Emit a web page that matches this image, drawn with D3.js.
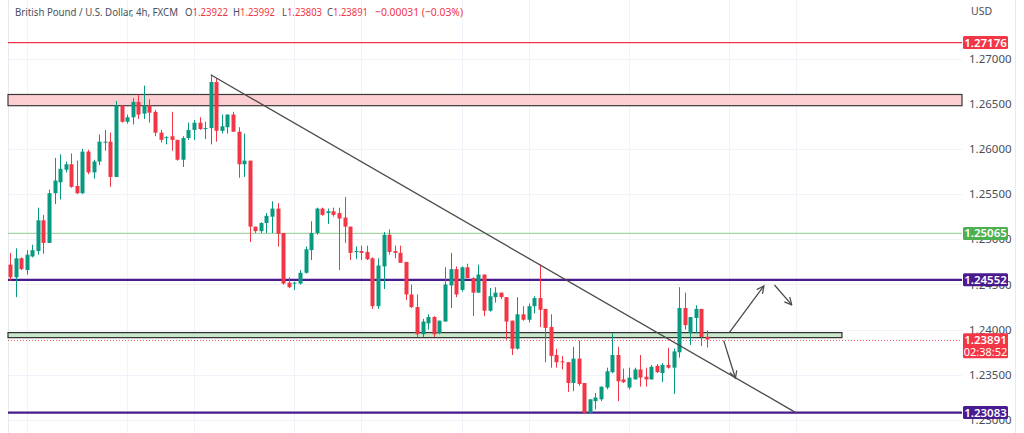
<!DOCTYPE html>
<html><head><meta charset="utf-8">
<script src="https://cdn.jsdelivr.net/npm/d3@7"></script>
<style>
html,body{margin:0;padding:0;background:#fff;}
svg{display:block;}
text{font-family:"Noto Sans","Open Sans",sans-serif;}
</style></head>
<body><svg id="c" width="1024" height="433"></svg>
<script>
// ---------- DATA ----------
const openP = [1.2472,1.2458,1.2479,1.2466,1.2481,1.2487,1.2521,1.2496,1.2551,1.2563,1.2577,1.2583,1.2559,1.2551,1.2597,1.2574,1.2586,1.2607,1.2608,1.2569,
1.2648,1.2630,1.2635,1.2652,1.2639,1.2648,1.2641,1.2618,1.2612,1.2614,1.2610,1.2588,1.2612,1.2621,1.2629,1.2622,1.2623,1.2674,1.2620,1.2624,
1.2638,1.2619,1.2583,1.2587,1.2514,1.2509,1.2518,1.2525,1.2534,1.2507,1.2452,1.2451,1.2451,1.2463,1.2488,1.2507,1.2534,1.2529,1.2531,1.2529,
1.2524,1.2514,1.2486,1.2487,1.2486,1.2479,1.2426,1.2470,1.2505,1.2487,1.2485,1.2475,1.2439,1.2425,1.2395,1.2407,1.2414,1.2396,1.2409,1.2449,
1.2467,1.2444,1.2469,1.2457,1.2441,1.2461,1.2421,1.2436,1.2441,1.2436,1.2410,1.2379,1.2417,1.2411,1.2426,1.2435,1.2423,1.2403,1.2372,1.2365,
1.2364,1.2341,1.2368,1.2341,1.2308,1.2321,1.2323,1.2336,1.2353,1.2372,1.2345,1.2336,1.2345,1.2356,1.2348,1.2345,1.2360,1.2352,1.2361,1.2358,
1.2375,1.2424,1.2396,1.2413,1.2423,1.23922];
const highP = [1.2485,1.2490,1.2480,1.2488,1.2494,1.2535,1.2527,1.2555,1.2590,1.2594,1.2586,1.2595,1.2587,1.2600,1.2599,1.2588,1.2616,1.2621,1.2618,1.2653,
1.2648,1.2638,1.2656,1.2660,1.2670,1.2655,1.2643,1.2621,1.2614,1.2641,1.2610,1.2614,1.2629,1.2632,1.2635,1.2630,1.2682,1.2678,1.2638,1.2638,
1.2641,1.2624,1.2617,1.2587,1.2514,1.2519,1.2529,1.2542,1.2540,1.2507,1.2458,1.2453,1.2466,1.2492,1.2520,1.2535,1.2535,1.2534,1.2535,1.2535,
1.2547,1.2514,1.2492,1.2493,1.2493,1.2480,1.2479,1.2508,1.2511,1.2493,1.2493,1.2475,1.2450,1.2439,1.2412,1.2417,1.2415,1.2410,1.2469,1.2485,
1.2470,1.2470,1.2473,1.2458,1.2472,1.2461,1.2446,1.2447,1.2441,1.2436,1.2410,1.2436,1.2426,1.2429,1.2437,1.2472,1.2423,1.2417,1.2379,1.2371,
1.2364,1.2381,1.2388,1.2341,1.2323,1.2330,1.2337,1.2358,1.2396,1.2381,1.2357,1.2358,1.2358,1.2372,1.2358,1.2361,1.2362,1.2363,1.2380,1.2379,
1.2447,1.2441,1.2414,1.2427,1.2423,1.23992];
const lowP = [1.2454,1.2436,1.2466,1.2461,1.2480,1.2483,1.2484,1.2496,1.2539,1.2544,1.2574,1.2557,1.2550,1.2550,1.2572,1.2567,1.2582,1.2598,1.2558,1.2569,
1.2629,1.2628,1.2627,1.2633,1.2633,1.2629,1.2614,1.2607,1.2605,1.2598,1.2587,1.2580,1.2610,1.2610,1.2621,1.2611,1.2605,1.2608,1.2617,1.2617,
1.2619,1.2568,1.2569,1.2497,1.2507,1.2507,1.2507,1.2507,1.2492,1.2450,1.2446,1.2444,1.2450,1.2462,1.2477,1.2505,1.2526,1.2517,1.2525,1.2466,
1.2496,1.2477,1.2478,1.2477,1.2477,1.2423,1.2423,1.2445,1.2483,1.2479,1.2474,1.2433,1.2424,1.2392,1.2392,1.2400,1.2392,1.2395,1.2409,1.2424,
1.2436,1.2442,1.2457,1.2415,1.2441,1.2415,1.2420,1.2430,1.2434,1.2389,1.2372,1.2378,1.2410,1.2408,1.2418,1.2403,1.2364,1.2358,1.2358,1.2356,
1.2331,1.2332,1.2338,1.2308,1.2308,1.2312,1.2321,1.2334,1.2352,1.2321,1.2341,1.2334,1.2345,1.2337,1.2337,1.2345,1.2352,1.2342,1.2357,1.2329,
1.2369,1.2400,1.2383,1.2396,1.2382,1.23803];
const closeP = [1.2458,1.2479,1.2467,1.2483,1.2488,1.2521,1.2496,1.2551,1.2565,1.2578,1.2583,1.2558,1.2551,1.2597,1.2574,1.2586,1.2608,1.2608,1.2569,1.2648,
1.2630,1.2635,1.2652,1.2638,1.2648,1.2640,1.2618,1.2610,1.2613,1.2610,1.2588,1.2612,1.2621,1.2629,1.2622,1.2623,1.2674,1.2620,1.2625,1.2638,
1.2619,1.2583,1.2587,1.2514,1.2509,1.2518,1.2526,1.2534,1.2506,1.2451,1.2447,1.2452,1.2463,1.2489,1.2507,1.2534,1.2527,1.2531,1.2527,1.2523,
1.2514,1.2485,1.2487,1.2485,1.2478,1.2426,1.2471,1.2505,1.2486,1.2485,1.2474,1.2439,1.2425,1.2395,1.2409,1.2414,1.2395,1.2410,1.2450,1.2467,
1.2439,1.2469,1.2457,1.2441,1.2461,1.2421,1.2437,1.2441,1.2436,1.2409,1.2379,1.2417,1.2411,1.2426,1.2435,1.2422,1.2402,1.2371,1.2364,1.2364,
1.2341,1.2368,1.2340,1.2308,1.2323,1.2325,1.2337,1.2354,1.2372,1.2343,1.2342,1.2347,1.2356,1.2347,1.2345,1.2359,1.2353,1.2361,1.2358,1.2376,
1.2424,1.2405,1.2414,1.2423,1.2392,1.23891];

const tickValues = [1.230,1.235,1.240,1.245,1.250,1.255,1.260,1.265,1.270];
const gridIndices = [3,21,33,51,63,81,93,111,129,141];

const levelLines = [
  {price:1.27176, label:"1.27176", color:"#f23645", width:1.3},
  {price:1.25065, label:"1.25065", color:"#a5d6a7", width:1.2, tag:"#4caf50"},
  {price:1.24552, label:"1.24552", color:"#4a1a8f", width:2.2},
  {price:1.23083, label:"1.23083", color:"#4a1a8f", width:2.2}
];
const pinkZone = [1.26478, 1.26602];
const greenZone = [1.23912, 1.23968];
const greenZoneEnd = 149.2;
const trendLine = [{i:36, p:1.2682}, {i:141, p:1.2308}];
const arrows = [
  [{i:129.0, p:1.23967}, {i:135.2, p:1.24484}],
  [{i:137.1, p:1.24495}, {i:140.2, p:1.24274}],
  [{i:128.0, p:1.23879}, {i:130.1, p:1.23463}]
];
const lastPrice = 1.23891, countdown = "02:38:52";
const headerParts = [
  {k:"", t:"British Pound / U.S. Dollar, 4h, FXCM", x:15, w:163},
  {k:"O", t:"1.23922", x:185, w:43},
  {k:"H", t:"1.23992", x:233, w:42},
  {k:"L", t:"1.23803", x:282, w:40},
  {k:"C", t:"1.23891", x:327, w:41},
  {k:"", t:"\u22120.00031 (\u22120.03%)", x:375, w:88, red:true}
];

// ---------- SCALES ----------
const svg = d3.select("#c");
const plotL = 8, plotR = 962;
const x = d3.scaleLinear().domain([0, 125]).range([10, 707]);
const y = d3.scaleLinear().domain([1.235, 1.27]).range([374.9, 58.5]);
const UP = "#089981", DN = "#f23645";
const candles = openP.map((o,i)=>({i, o, h:highP[i], l:lowP[i], c:closeP[i]}));

// grid
const grid = svg.append("g");
grid.selectAll("line.h").data(tickValues).join("line")
  .attr("x1", plotL).attr("x2", plotR)
  .attr("y1", d=>Math.round(y(d))+0.5).attr("y2", d=>Math.round(y(d))+0.5)
  .attr("stroke", "#f0f3fa").attr("stroke-width", 1);
grid.selectAll("line.v").data(gridIndices).join("line")
  .attr("x1", d=>Math.round(x(d))+0.5).attr("x2", d=>Math.round(x(d))+0.5)
  .attr("y1", 0).attr("y2", 433)
  .attr("stroke", "#f0f3fa").attr("stroke-width", 1);
svg.append("line").attr("x1",plotL+0.5).attr("x2",plotL+0.5).attr("y1",0).attr("y2",433).attr("stroke","#e6e9f0");
svg.append("line").attr("x1",1015.5).attr("x2",1015.5).attr("y1",0).attr("y2",433).attr("stroke","#e6e9f0");

// pink zone
svg.append("rect").attr("x", plotL).attr("width", plotR - plotL)
  .attr("y", y(pinkZone[1])).attr("height", y(pinkZone[0]) - y(pinkZone[1]))
  .attr("fill", "#fccdd1").attr("stroke", "#3a3a3a").attr("stroke-width", 1.2);

// level lines
svg.selectAll("line.lvl").data(levelLines).join("line")
  .attr("x1", plotL).attr("x2", plotR)
  .attr("y1", d=>y(d.price)).attr("y2", d=>y(d.price))
  .attr("stroke", d=>d.color).attr("stroke-width", d=>d.width);

// green zone
svg.append("rect").attr("x", plotL).attr("width", x(greenZoneEnd) - plotL)
  .attr("y", y(greenZone[1])).attr("height", y(greenZone[0]) - y(greenZone[1]))
  .attr("fill", "#c8e6c9").attr("stroke", "#2e2e2e").attr("stroke-width", 1.2);

// last price dotted line
svg.append("line").attr("x1", plotL).attr("x2", plotR)
  .attr("y1", Math.round(y(lastPrice))+0.5).attr("y2", Math.round(y(lastPrice))+0.5)
  .attr("stroke", "#f23645").attr("stroke-width", 1).attr("stroke-dasharray", "1,2").attr("opacity",0.8);

// candles
const cg = svg.append("g");
cg.selectAll("line.wick").data(candles).join("line")
  .attr("x1", d=>Math.round(x(d.i))+0.5).attr("x2", d=>Math.round(x(d.i))+0.5)
  .attr("y1", d=>y(d.h)).attr("y2", d=>y(d.l))
  .attr("stroke", d=>d.c>=d.o?UP:DN).attr("stroke-width", 1);
cg.selectAll("rect.body").data(candles).join("rect")
  .attr("x", d=>Math.round(x(d.i))-1.5)
  .attr("width", 4)
  .attr("y", d=>y(Math.max(d.o,d.c)))
  .attr("height", d=>Math.max(1, Math.abs(y(d.o)-y(d.c))))
  .attr("fill", d=>d.c>=d.o?UP:DN);

// trend line
const line = d3.line().x(d=>x(d.i)).y(d=>y(d.p));
svg.append("path").attr("d", line(trendLine)).attr("fill","none")
  .attr("stroke","#4a4a4a").attr("stroke-width",1.3);

// arrows
svg.append("defs").append("marker").attr("id","ah").attr("viewBox","0 0 10 10")
  .attr("refX",9).attr("refY",5).attr("markerWidth",9).attr("markerHeight",9)
  .attr("markerUnits","userSpaceOnUse").attr("orient","auto")
  .append("path").attr("d","M1,1 L9,5 L1,9").attr("fill","none").attr("stroke","#4a4a4a").attr("stroke-width",1.4);
svg.selectAll("path.arr").data(arrows).join("path")
  .attr("d", d=>line(d)).attr("fill","none").attr("stroke","#4a4a4a").attr("stroke-width",1.3)
  .attr("marker-end","url(#ah)");

// right axis
const axis = d3.axisRight(y).tickValues(tickValues).tickFormat(d3.format(".5f")).tickSize(0).tickPadding(0);
const ag = svg.append("g").attr("transform","translate(969,0)").call(axis);
ag.select(".domain").remove();
ag.selectAll("text").attr("fill","#4a4e59").attr("font-size","11.5px").attr("font-family",'"Noto Sans",sans-serif');
svg.append("text").attr("x",971).attr("y",15).text("USD").attr("fill","#4a4e59").attr("font-size","10.5px");

// price tags
const tg = svg.append("g");
levelLines.forEach(d=>{
  const cy = y(d.price);
  tg.append("rect").attr("x",963).attr("y",cy-6.5).attr("width",45).attr("height",13).attr("rx",1.5)
    .attr("fill", d.tag || d.color);
  tg.append("text").attr("x",985.5).attr("y",cy+4).attr("text-anchor","middle")
    .attr("fill","#fff").attr("font-size","11.5px").attr("font-weight",600).text(d.label);
});
const ly = y(lastPrice);
tg.append("rect").attr("x",963).attr("y",ly-6.3).attr("width",45).attr("height",25).attr("rx",1.5).attr("fill","#f23645");
tg.append("text").attr("x",985.5).attr("y",ly+4).attr("text-anchor","middle").attr("fill","#fff")
  .attr("font-size","11.5px").attr("font-weight",600).text(d3.format(".5f")(lastPrice));
tg.append("text").attr("x",985.5).attr("y",ly+16).attr("text-anchor","middle").attr("fill","#fff")
  .attr("font-size","11px").text(countdown);

// header
const ht = svg.selectAll("text.hdr").data(headerParts).join("text")
  .attr("class","hdr")
  .attr("x", d=>d.x).attr("y", 16)
  .attr("font-size","11.5px")
  .attr("font-family",'Roboto,"Noto Sans",sans-serif')
  .attr("textLength", d=>d.w).attr("lengthAdjust","spacingAndGlyphs")
  .attr("fill", d=>d.red?"#f23645":"#4a4e59");
ht.append("tspan").text(d=>d.k);
ht.append("tspan").attr("fill", d=>(d.k||d.red)?"#f23645":"#4a4e59").text(d=>d.t);
</script></body></html>
